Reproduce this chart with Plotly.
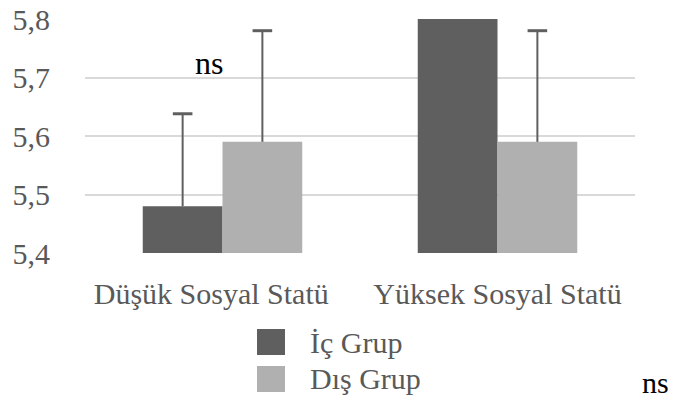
import plotly.graph_objects as go

categories = ["Düşük Sosyal Statü", "Yüksek Sosyal Statü"]
category_labels = ["Düşük Sosyal Statü\u00a0\u00a0\u00a0", "Yüksek Sosyal Statü"]
ic_grup = [5.48, 5.80]
dis_grup = [5.59, 5.59]
ic_err = [0.158, 0.0]
dis_err = [0.19, 0.19]
series_names = ["İç Grup", "Dış Grup"]
colors = ["#5f5f5f", "#b0b0b0"]
tick_vals = [5.4, 5.5, 5.6, 5.7, 5.8]

font_family = "Liberation Serif"
bar_w = 0.29
err_color = "#5f5f5f"
cat_idx = list(range(len(categories)))

fig = go.Figure()
series = [(series_names[0], ic_grup, ic_err, colors[0], -bar_w),
          (series_names[1], dis_grup, dis_err, colors[1], 0.0)]
for name, vals, errs, col, off in series:
    fig.add_trace(go.Bar(
        x=cat_idx, y=vals, name=name, width=bar_w, offset=off,
        marker=dict(color=col, line=dict(width=0)), showlegend=False,
    ))

# Upper-only error bars (no cap at the bar top), placed at each bar's centre
for name, vals, errs, col, off in series:
    lx, ly, cx, cy = [], [], [], []
    for i, v, e in zip(cat_idx, vals, errs):
        if e <= 0:
            continue
        xc = i + off + bar_w / 2
        lx += [xc, xc, None]
        ly += [v, v + e, None]
        cx.append(xc)
        cy.append(v + e)
    fig.add_trace(go.Scatter(x=lx, y=ly, mode="lines", line=dict(color=err_color, width=2),
                             showlegend=False, hoverinfo="skip"))
    fig.add_trace(go.Scatter(x=cx, y=cy, mode="markers", showlegend=False, hoverinfo="skip",
                             marker=dict(symbol="line-ew", size=14,
                                         line=dict(color=err_color, width=3))))

# Manual legend (larger square keys than Plotly's legend allows)
legend_rows = [(-0.3248, -0.4359), (-0.4829, -0.5940)]
for (y_top, y_bot), name, col in zip(legend_rows, series_names, colors):
    fig.add_shape(type="rect", xref="paper", yref="paper", x0=0.3127, x1=0.3636,
                  y0=y_bot, y1=y_top, fillcolor=col, line=dict(width=0))
    fig.add_annotation(x=0.4055, y=(y_top + y_bot) / 2, xref="paper", yref="paper",
                       text=name, showarrow=False, xanchor="left", yanchor="middle",
                       font=dict(family=font_family, size=30, color="#595959"))

fig.add_annotation(x=-0.05, y=5.725, xref="x", yref="y", text="ns", showarrow=False,
                   font=dict(family=font_family, size=32, color="black"))
fig.add_annotation(x=1.038, y=-0.632, xref="paper", yref="paper", text="ns", showarrow=False,
                   font=dict(family=font_family, size=30, color="black"), xanchor="center")

fig.update_layout(
    width=675, height=407,
    margin=dict(l=85, r=40, t=19, b=154, autoexpand=False),
    plot_bgcolor="white", paper_bgcolor="white",
    separators=", ",
    showlegend=False,
    font=dict(family=font_family, size=30, color="#595959"),
    xaxis=dict(range=[-0.5, 1.5], showgrid=False, showline=False, zeroline=False, ticks="",
               ticklabelstandoff=20, tickvals=cat_idx, ticktext=category_labels,
               tickfont=dict(family=font_family, size=30, color="#595959")),
    yaxis=dict(range=[5.4, 5.8], tickvals=tick_vals, tickformat=".1f", showgrid=True,
               gridcolor="#d9d9d9", gridwidth=2, zeroline=False, showline=False,
               ticks="", ticklabelstandoff=34,
               tickfont=dict(family=font_family, size=30, color="#595959")),
)

fig.write_html("out.html", config={"displayModeBar": False},
               post_script="document.body.style.margin='0px';")
